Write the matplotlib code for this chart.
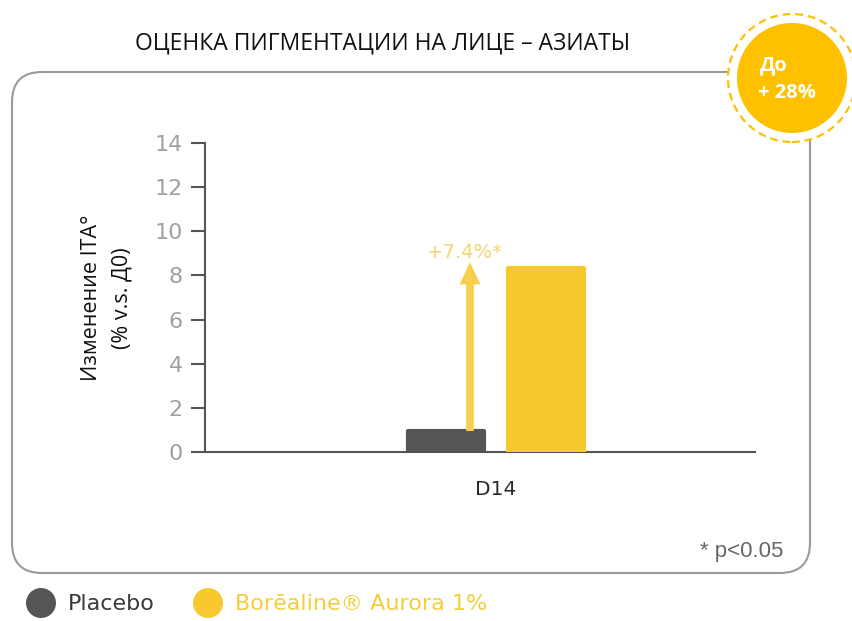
import matplotlib.pyplot as plt
from matplotlib.patches import FancyBboxPatch, Circle

plt.rcParams['font.family'] = ['Open Sans', 'DejaVu Sans']

# данные
groups = ['Placebo', 'Borēaline® Aurora 1%']
values = [0.95, 8.35]
day_label = 'D14'
delta_label = '+7.4%*'
yticks = [0, 2, 4, 6, 8, 10, 12, 14]
bar_colors = ['#555555', '#F8C92E']
title = 'ОЦЕНКА ПИГМЕНТАЦИИ НА ЛИЦЕ – АЗИАТЫ'
ylabel_1 = 'Изменение ITA°'
ylabel_2 = '(% v.s. Д0)'
badge_1 = 'До'
badge_2 = '+ 28%'
footnote = '* p<0.05'

fig = plt.figure(figsize=(8.53, 6.21), dpi=100)
fig.patch.set_facecolor('white')

# рамка вокруг графика (в дюймах, чтобы скругление было круглым)
frame = FancyBboxPatch((0.12 + 0.3, 0.48 + 0.3), 7.98 - 0.6, 5.01 - 0.6,
                       boxstyle='round,pad=0.3', transform=fig.dpi_scale_trans,
                       facecolor='none', edgecolor='#9a9a9a', linewidth=1.5, zorder=-1)
fig.patches.append(frame)

ax = fig.add_axes([205 / 853, 169 / 621, 550 / 853, 309 / 621])
ax.set_facecolor('none')

offsets = [-0.25, 0.25]
width = 0.38
for off, v, c in zip(offsets, values, bar_colors):
    ax.bar(off, v, width=width, color=c, edgecolor=c, linewidth=3,
           joinstyle='round', zorder=3)

# стрелка разницы
ax.annotate('', xy=(-0.13, values[1] + 0.25), xytext=(-0.13, values[0]),
            arrowprops=dict(arrowstyle='simple,head_width=1.5,head_length=1.6,tail_width=0.55',
                            color='#F6D04D', lw=0, shrinkA=0, shrinkB=0), zorder=4)
ax.text(-0.155, values[1] + 0.25, delta_label, ha='center', va='bottom',
        fontsize=14, color='#F3D572', family=['DejaVu Sans'])

ax.set_xlim(-1.455, 1.295)
ax.set_ylim(0, 14)
ax.set_yticks(yticks)
ax.set_xticks([0])
ax.set_xticklabels([day_label], fontsize=14.5, color='#2a2a2a', family=['DejaVu Sans'])
ax.tick_params(axis='x', length=0, pad=20)
ax.tick_params(axis='y', direction='out', length=10, width=1.5, color='#555555',
               labelcolor='#a0a0a0', labelsize=16, pad=6)
for lab in ax.get_yticklabels():
    lab.set_family(['DejaVu Sans'])
for s in ['top', 'right']:
    ax.spines[s].set_visible(False)
ax.spines['left'].set_color('#555555')
ax.spines['left'].set_linewidth(1.5)
ax.spines['bottom'].set_color('#555555')
ax.spines['bottom'].set_linewidth(1.5)

# подпись оси Y в две строки
fig.text(92 / 853, 1 - 298 / 621, ylabel_1, rotation=90, ha='center', va='center',
         fontsize=15.5, color='#111111')
fig.text(122 / 853, 1 - 298 / 621, ylabel_2, rotation=90, ha='center', va='center',
         fontsize=15.5, color='#111111')

fig.text(383 / 853, 1 - 44 / 621, title, ha='center', va='center',
         fontsize=16.5, color='#111111')

fig.text(783 / 853, 1 - 552 / 621, footnote, ha='right', va='center',
         fontsize=16, color='#666666', family=['Liberation Sans', 'DejaVu Sans'])

# значок "До + 28%"
cx, cy = 7.92, (621 - 78) / 100
fig.patches.append(Circle((cx, cy), 0.64, transform=fig.dpi_scale_trans,
                          facecolor='white', edgecolor='#FFC000', linewidth=1.6,
                          linestyle=(0, (3.5, 2.2))))
fig.patches.append(Circle((cx, cy), 0.55, transform=fig.dpi_scale_trans,
                          facecolor='#FFC000', edgecolor='none'))
fig.text(760 / 853, (cy + 0.13) / 6.21, badge_1, ha='left', va='center',
         fontsize=14.5, color='white', fontweight='bold')
fig.text(758 / 853, (cy - 0.15) / 6.21, badge_2, ha='left', va='center',
         fontsize=14.5, color='white', fontweight='bold')

# легенда
legend_x = [41, 208]
text_x = [68, 235]
text_colors = ['#3a3a3a', '#F3CE3A']
for g, c, lx, tx, tc in zip(groups, bar_colors, legend_x, text_x, text_colors):
    fig.patches.append(Circle((lx / 100, (621 - 603) / 100), 0.15,
                              transform=fig.dpi_scale_trans, facecolor=c, edgecolor='none'))
    fig.text(tx / 853, 1 - 604 / 621, g, ha='left', va='center', fontsize=16,
             color=tc, family=['DejaVu Sans'])

fig.savefig('out.png', dpi=100)
